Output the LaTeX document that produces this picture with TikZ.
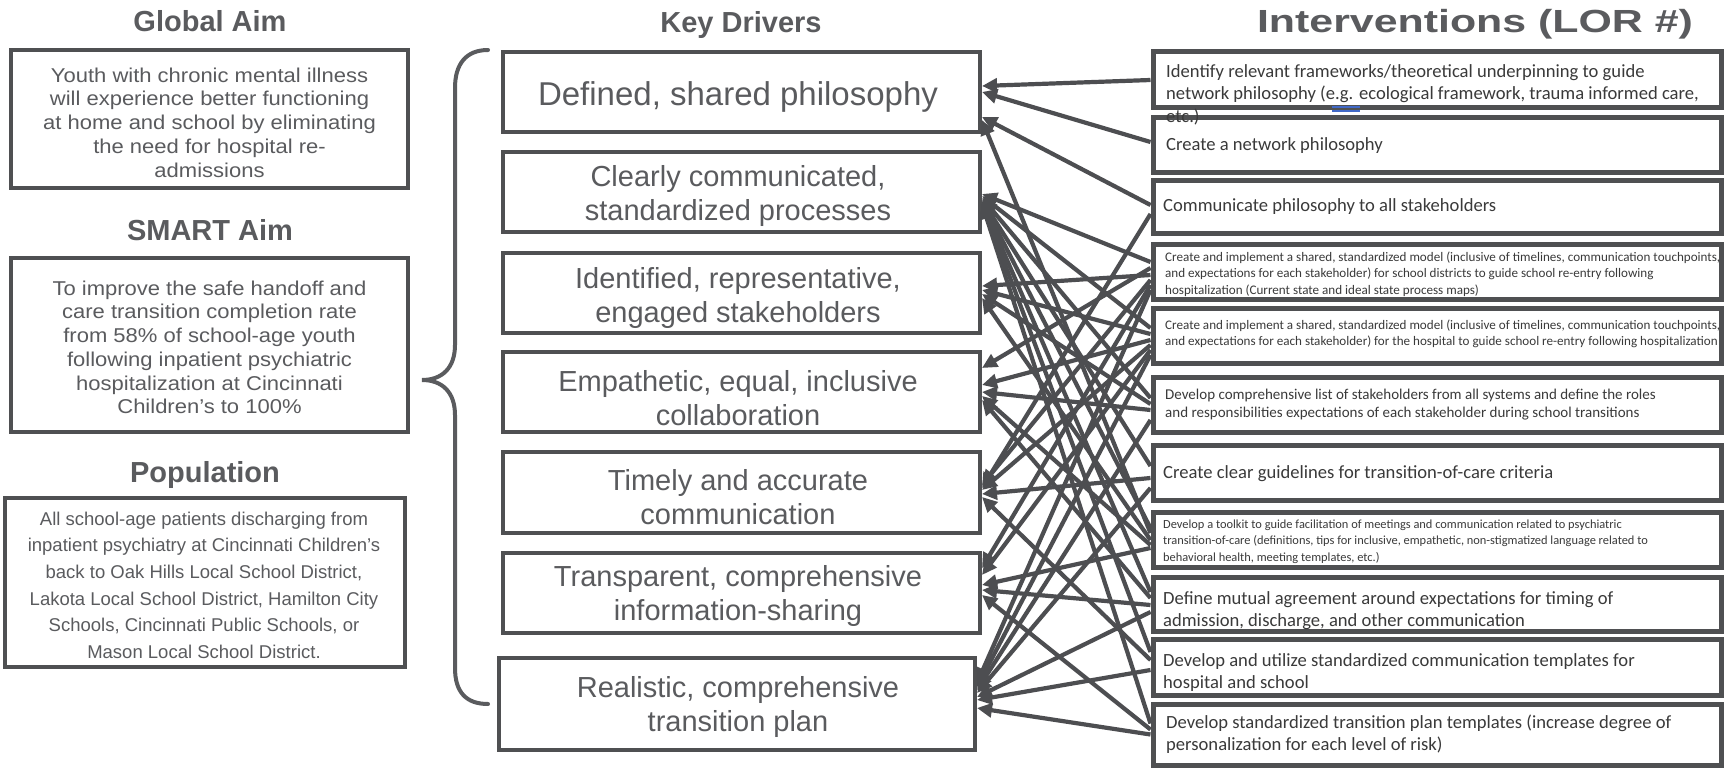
\documentclass[tikz,border=0pt]{standalone}
\usepackage{fontspec}
\setmainfont{Liberation Sans}
\newfontfamily\calfont{Carlito}
\newfontfamily\widesans[FakeStretch=1.1]{Liberation Sans}
\newfontfamily\titlewide[FakeStretch=1.34]{Liberation Sans}
\usetikzlibrary{arrows.meta}

\definecolor{boxline}{HTML}{4F5052}
\definecolor{connline}{HTML}{4D4E51}
\definecolor{greytext}{HTML}{5A5B5E}
\definecolor{darktext}{HTML}{3A3A3A}
\definecolor{markblue}{HTML}{4169C8}

% connector from an intervention (left side) to a key driver (right side);
% #2 and #4 are downward offsets from the box centres
\newcommand\kdlink[4]{\draw[connector] ([yshift={-(#2)}]#1.west) -- ([yshift={-(#4)}]#3.east);}

\begin{document}
\begin{tikzpicture}[x=1pt,y=-1pt,
  box/.style={draw=boxline, line width=4pt, inner sep=0pt},
  ibox/.style={draw=boxline, line width=5pt, inner sep=0pt},
  heading/.style={font=\fontsize{29}{34}\selectfont\bfseries, text=greytext, anchor=base, inner sep=0pt},
  aimtext/.style={font=\widesans\fontsize{20}{23.75}\selectfont, text=greytext, align=center, anchor=north, inner sep=0pt},
  poptext/.style={font=\fontsize{18.5}{26.6}\selectfont, text=greytext, align=center, anchor=north, inner sep=0pt},
  drvtext/.style={font=\fontsize{29}{34}\selectfont, text=greytext, align=center, anchor=north, inner sep=0pt},
  itext/.style={font=\calfont\fontsize{18.6}{22.7}\selectfont, text=darktext, align=left, anchor=north west, inner sep=0pt},
  ismall/.style={itext, font=\calfont\fontsize{13.1}{16.7}\selectfont},
  imid/.style={itext, font=\calfont\fontsize{15}{18}\selectfont},
  itiny/.style={itext, font=\calfont\fontsize{12.4}{16.7}\selectfont},
  connector/.style={draw=connline, line width=4.2pt, -{Triangle[length=15pt,width=14pt]}},
  bracepath/.style={draw=greytext, line width=4pt, line cap=round}
]
\fill[white] (0,0) rectangle (1725,768);
\useasboundingbox (0,0) rectangle (1725,768);

% ---------- aims and population ----------
\node[heading] (h-global) at (210,32) {Global Aim};
\node[box, minimum width=397pt, minimum height=138pt] (ga) at (209.5,119) {};
\node[aimtext] (ga-text) at (209.5,65.4) {\strut Youth with chronic mental illness\\\strut will experience better functioning\\\strut at home and school by eliminating\\\strut the need for hospital re-\\\strut admissions};

\node[heading] (h-smart) at (210,240) {SMART Aim};
\node[box, minimum width=397pt, minimum height=174pt] (sa) at (209.5,345) {};
\node[aimtext] (sa-text) at (209.5,278.4) {\strut To improve the safe handoff and\\\strut care transition completion rate\\\strut from 58\% of school-age youth\\\strut following inpatient psychiatric\\\strut hospitalization at Cincinnati\\\strut Children’s to 100\%};

\node[heading] (h-pop) at (205,482) {Population};
\node[box, minimum width=400pt, minimum height=169pt] (pop) at (205,582.5) {};
\node[poptext] (pop-text) at (204,506.4) {\strut All school-age patients discharging from\\\strut inpatient psychiatry at Cincinnati Children’s\\\strut back to Oak Hills Local School District,\\\strut Lakota Local School District, Hamilton City\\\strut Schools, Cincinnati Public Schools, or\\\strut Mason Local School District.};

% brace gathering the aims
\draw[bracepath] (488,50) .. controls (466,50) and (455,64) .. (455,88) -- (455,345)
  .. controls (455,368) and (442,380) .. (422,380)
  .. controls (442,380) and (455,392) .. (455,415) -- (455,668)
  .. controls (455,692) and (466,704) .. (488,704);

% ---------- key drivers ----------
\node[heading] (h-drivers) at (741,33) {Key Drivers};
\node[box, minimum width=477pt, minimum height=80pt] (d1) at (741.5,92) {};
\node[box, minimum width=477pt, minimum height=80pt] (d2) at (741.5,192) {};
\node[box, minimum width=477pt, minimum height=80pt] (d3) at (741.5,293) {};
\node[box, minimum width=477pt, minimum height=80pt] (d4) at (741.5,392) {};
\node[box, minimum width=477pt, minimum height=81pt] (d5) at (741.5,492.5) {};
\node[box, minimum width=477pt, minimum height=80pt] (d6) at (741.5,593) {};
\node[box, minimum width=476pt, minimum height=92pt] (d7) at (737,704) {};

\node[drvtext, font=\fontsize{33}{34}\selectfont] (d1-text) at (738,81.2) {\strut Defined, shared philosophy};
\node[drvtext] (d2-text) at (738,162.2) {\strut Clearly communicated,\\\strut standardized processes};
\node[drvtext] (d3-text) at (738,264.2) {\strut Identified, representative,\\\strut engaged stakeholders};
\node[drvtext] (d4-text) at (738,367.2) {\strut Empathetic, equal, inclusive\\\strut collaboration};
\node[drvtext] (d5-text) at (738,466.2) {\strut Timely and accurate\\\strut communication};
\node[drvtext] (d6-text) at (738,562.2) {\strut Transparent, comprehensive\\\strut information-sharing};
\node[drvtext] (d7-text) at (738,673.2) {\strut Realistic, comprehensive\\\strut transition plan};

% ---------- interventions ----------
\node[heading, font=\titlewide\fontsize{32}{34}\selectfont\bfseries] (h-interv) at (1475,33) {Interventions (LOR \#)};
\node[ibox, minimum width=568pt, minimum height=55pt] (i1) at (1437,79.5) {};
\node[ibox, minimum width=568pt, minimum height=55pt] (i2) at (1437,144.5) {};
\node[ibox, minimum width=568pt, minimum height=53pt] (i3) at (1437,206.5) {};
\node[ibox, minimum width=568pt, minimum height=55pt] (i4) at (1437,271.5) {};
\node[ibox, minimum width=568pt, minimum height=55pt] (i5) at (1437,335.5) {};
\node[ibox, minimum width=568pt, minimum height=55pt] (i6) at (1437,404.5) {};
\node[ibox, minimum width=568pt, minimum height=55pt] (i7) at (1437,472.5) {};
\node[ibox, minimum width=568pt, minimum height=55pt] (i8) at (1437,539.5) {};
\node[ibox, minimum width=568pt, minimum height=54pt] (i9) at (1437,604) {};
\node[ibox, minimum width=568pt, minimum height=56pt] (i10) at (1437,667) {};
\node[ibox, minimum width=568pt, minimum height=61pt] (i11) at (1437,734.5) {};

% connectors: intervention -> key driver
\kdlink{i1}{0.5}{d1}{-6}
\kdlink{i2}{-2.5}{d1}{0}
\kdlink{i3}{-1.5}{d1}{25}
\kdlink{i8}{-6.5}{d1}{28}
\kdlink{i4}{-9.5}{d2}{2}
\kdlink{i5}{-7.5}{d2}{4}
\kdlink{i6}{-6.5}{d2}{6}
\kdlink{i7}{-6.5}{d2}{8}
\kdlink{i8}{-11.5}{d2}{9}
\kdlink{i9}{-12}{d2}{10}
\kdlink{i10}{-15}{d2}{11}
\kdlink{i11}{-11}{d2}{12}
\kdlink{i4}{3.5}{d3}{-7}
\kdlink{i5}{-1.5}{d3}{-3}
\kdlink{i6}{-0.5}{d3}{1}
\kdlink{i8}{0.5}{d3}{5}
\kdlink{i4}{-3.5}{d4}{-24}
\kdlink{i5}{4.5}{d4}{-7}
\kdlink{i6}{5.5}{d4}{0}
\kdlink{i8}{5.5}{d4}{4}
\kdlink{i9}{-6}{d4}{8}
\kdlink{i3}{7.5}{d5}{-4.5}
\kdlink{i4}{8.5}{d5}{-7.5}
\kdlink{i5}{9.5}{d5}{-2.5}
\kdlink{i7}{5.5}{d5}{1.5}
\kdlink{i10}{-7}{d5}{4.5}
\kdlink{i4}{13.5}{d6}{-25}
\kdlink{i5}{14.5}{d6}{-18}
\kdlink{i8}{8.5}{d6}{-8}
\kdlink{i9}{1}{d6}{-3}
\kdlink{i11}{-5}{d6}{2}
\kdlink{i4}{18.5}{d7}{-21}
\kdlink{i5}{19.5}{d7}{-17}
\kdlink{i6}{15.5}{d7}{-14}
\kdlink{i7}{15.5}{d7}{-11}
\kdlink{i9}{8}{d7}{-7}
\kdlink{i10}{3}{d7}{-4}
\kdlink{i11}{0}{d7}{4}

% intervention texts
\node[itext] (i1-text) at (1166,61.1) {\strut Identify relevant frameworks/theoretical underpinning to guide\\\strut network philosophy (e.g. ecological framework, trauma informed care,\\\strut etc.)};
\draw[markblue, line width=1.4pt] (1332,107) -- (1360,107) (1332,111) -- (1360,111);
\node[itext] (i2-text) at (1166,134.1) {\strut Create a network philosophy};
\node[itext] (i3-text) at (1163,195.1) {\strut Communicate philosophy to all stakeholders};
\node[ismall] (i4-text) at (1165,249.3) {\strut Create and implement a shared, standardized model (inclusive of timelines, communication touchpoints,\\\strut and expectations for each stakeholder) for school districts to guide school re-entry following\\\strut hospitalization (Current state and ideal state process maps)};
\node[ismall] (i5-text) at (1165,317.3) {\strut Create and implement a shared, standardized model (inclusive of timelines, communication touchpoints,\\\strut and expectations for each stakeholder) for the hospital to guide school re-entry following hospitalization};
\node[imid] (i6-text) at (1165,386.4) {\strut Develop comprehensive list of stakeholders from all systems and define the roles\\\strut and responsibilities expectations of each stakeholder during school transitions};
\node[itext] (i7-text) at (1163,462.1) {\strut Create clear guidelines for transition-of-care criteria};
\node[itiny] (i8-text) at (1163,516.3) {\strut Develop a toolkit to guide facilitation of meetings and communication related to psychiatric\\\strut transition-of-care (definitions, tips for inclusive, empathetic, non-stigmatized language related to\\\strut behavioral health, meeting templates, etc.)};
\node[itext] (i9-text) at (1163,588.1) {\strut Define mutual agreement around expectations for timing of\\\strut admission, discharge, and other communication};
\node[itext] (i10-text) at (1163,650.1) {\strut Develop and utilize standardized communication templates for\\\strut hospital and school};
\node[itext] (i11-text) at (1166,712.1) {\strut Develop standardized transition plan templates (increase degree of\\\strut personalization for each level of risk)};
\end{tikzpicture}
\end{document}
